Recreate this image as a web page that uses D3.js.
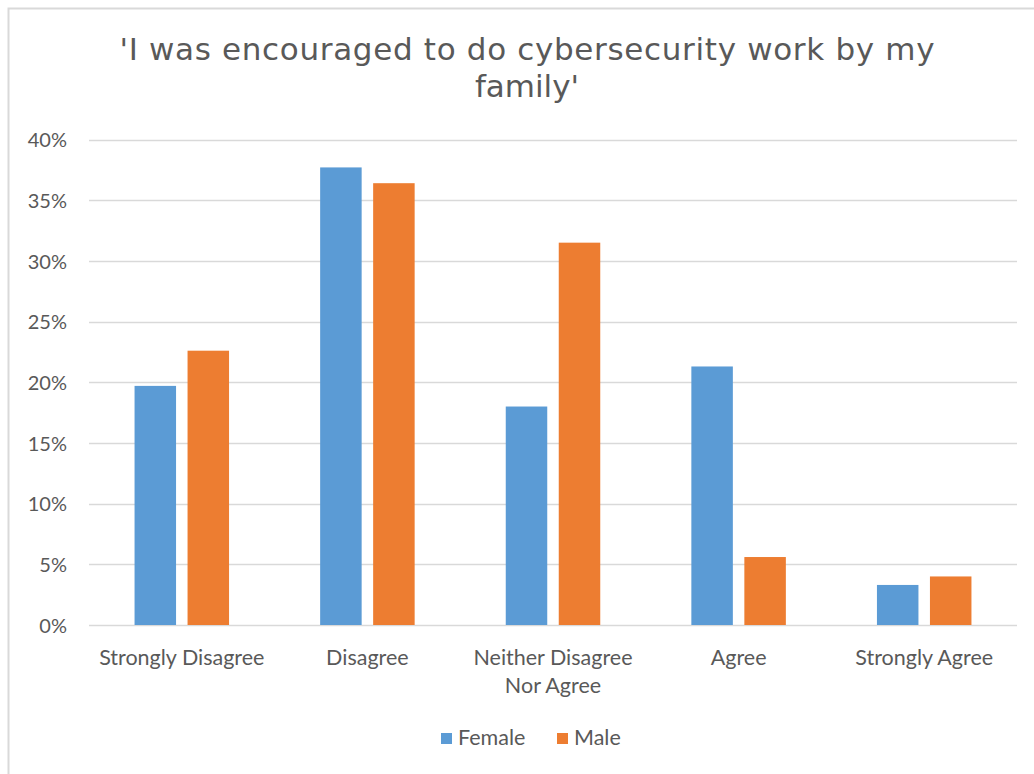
<!DOCTYPE html>
<html>
<head>
<meta charset="utf-8">
<script src="https://cdn.jsdelivr.net/npm/d3@7"></script>
<style>
  html, body { margin: 0; padding: 0; background: #fff; }
  svg { display: block; }
</style>
</head>
<body>
<svg id="chart" width="1034" height="774"></svg>
<script>
// Survey responses: share of respondents per answer, by gender
const categories = [["Strongly Disagree"], ["Disagree"], ["Neither Disagree", "Nor Agree"], ["Agree"], ["Strongly Agree"]];
const seriesNames = ["Female", "Male"];
const female = [0.197, 0.377, 0.180, 0.213, 0.033];
const male = [0.226, 0.364, 0.315, 0.056, 0.040];
const yTicks = [0, 0.05, 0.10, 0.15, 0.20, 0.25, 0.30, 0.35, 0.40];
const titleLines = ["'I was encouraged to do cybersecurity work by my", "family'"];
const colors = ["#5B9BD5", "#ED7D31"];

const svg = d3.select("#chart");
const textColor = "#595959";
const labelFont = "Lato, 'Open Sans', sans-serif";

// Outer chart frame (top and left edges visible)
svg.append("path")
  .attr("d", "M8.5,774 L8.5,8.5 L1034,8.5")
  .attr("fill", "none").attr("stroke", "#D9D9D9").attr("stroke-width", 2);

const margin = { left: 89, right: 1017, top: 139.5, bottom: 625 };

const x0 = d3.scaleBand()
  .domain(d3.range(categories.length))
  .range([margin.left, margin.right])
  .paddingInner(0).paddingOuter(0);

const y = d3.scaleLinear().domain([0, 0.40]).range([margin.bottom, margin.top]);

// Gridlines
svg.append("g").selectAll("line").data(yTicks).join("line")
  .attr("x1", margin.left).attr("x2", margin.right)
  .attr("y1", d => Math.round(y(d)) + 0.5).attr("y2", d => Math.round(y(d)) + 0.5)
  .attr("stroke", "#D9D9D9").attr("stroke-width", 1.3);

// Y axis labels
const yAxis = d3.axisLeft(y).tickValues(yTicks).tickFormat(d3.format(".0%")).tickSize(0).tickPadding(0);
const yg = svg.append("g").attr("transform", "translate(67,0)").call(yAxis);
yg.select(".domain").remove();
yg.selectAll("text")
  .attr("fill", textColor).attr("font-family", labelFont).attr("font-size", 20)
  .attr("dy", "0.36em");

// Bars: two per category, centered in the band
const barW = 41.5, gap = 11.5;
const data = categories.map((c, i) => [female[i], male[i]]);
const groups = svg.append("g").selectAll("g").data(data).join("g")
  .attr("transform", (d, i) => `translate(${x0(i) + x0.bandwidth() / 2},0)`);
groups.selectAll("rect").data(d => d).join("rect")
  .attr("x", (d, j) => j === 0 ? -gap / 2 - barW : gap / 2)
  .attr("width", barW)
  .attr("y", d => y(d))
  .attr("height", d => y(0) - y(d))
  .attr("fill", (d, j) => colors[j]);

// Category labels
const cat = svg.append("g").selectAll("text").data(categories).join("text")
  .attr("x", (d, i) => x0(i) + x0.bandwidth() / 2)
  .attr("y", 665)
  .attr("text-anchor", "middle")
  .attr("fill", textColor).attr("font-family", labelFont).attr("font-size", 21.5);
cat.selectAll("tspan").data(d => d).join("tspan")
  .attr("x", function () { return this.parentNode.getAttribute("x"); })
  .attr("dy", (d, k) => k === 0 ? 0 : 28)
  .text(d => d);

// Title
const title = svg.append("g").selectAll("text").data(titleLines).join("text")
  .attr("x", 527)
  .attr("y", (d, i) => 60 + i * 37)
  .attr("text-anchor", "middle")
  .attr("fill", textColor)
  .attr("font-family", "'DejaVu Sans', Verdana, sans-serif")
  .attr("font-size", 31)
  .text(d => d);
title.filter((d, i) => i === 0)
  .attr("textLength", 815)
  .attr("lengthAdjust", "spacing");

// Legend
const legendItems = [{ name: seriesNames[0], x: 441 }, { name: seriesNames[1], x: 557 }];
const lg = svg.append("g").selectAll("g").data(legendItems).join("g")
  .attr("transform", d => `translate(${d.x},733)`);
lg.append("rect").attr("width", 11).attr("height", 11).attr("fill", (d, i) => colors[i]);
lg.append("text").attr("x", 17).attr("y", 12)
  .attr("fill", textColor).attr("font-family", labelFont).attr("font-size", 21.5)
  .text(d => d.name);
</script>
</body>
</html>
